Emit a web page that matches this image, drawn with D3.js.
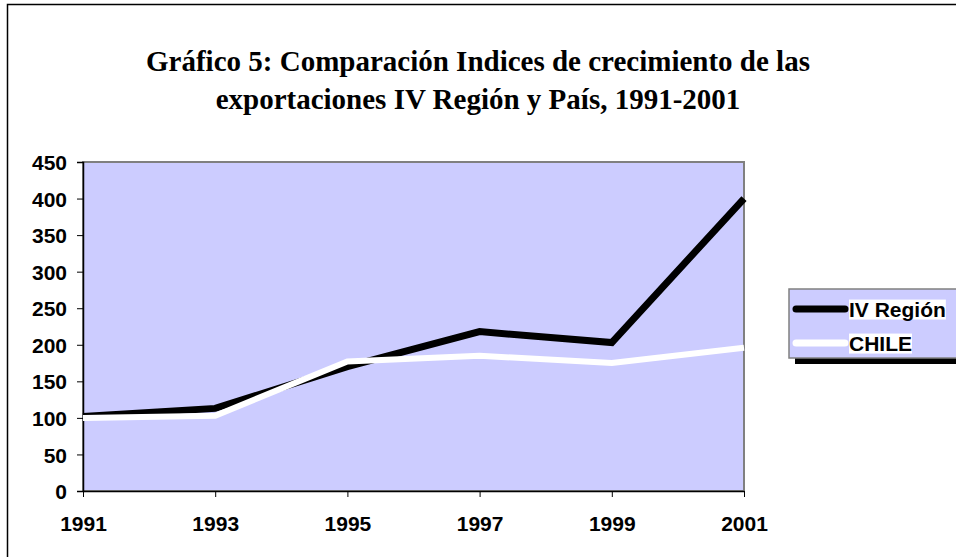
<!DOCTYPE html>
<html>
<head>
<meta charset="utf-8">
<script src="https://cdn.jsdelivr.net/npm/d3@7"></script>
<style>
  body { margin: 0; background: #fff; }
  svg { display: block; }
</style>
</head>
<body>
<div id="chart"></div>
<script>
const years = ['1991', '1993', '1995', '1997', '1999', '2001']
const region = [102, 113, 170, 218, 203, 400]
const chile = [100, 103, 177, 185, 175, 196]
const yTicks = [0, 50, 100, 150, 200, 250, 300, 350, 400, 450]
const seriesNames = ['IV Región', 'CHILE']

const W = 956, H = 557
const PLOT = { LEFT: 83, TOP: 162, RIGHT: 744, BOTTOM: 491 }
const SANS = '"Liberation Sans", Arial, sans-serif'
const LABEL_SIZE = '21px'

const svg = d3.select('#chart').append('svg')
    .attr('width', W).attr('height', H)

// outer chart frame (only left & top visible)
svg.append('path')
    .attr('d', `M7.5,${H} V4.5 H${W}`)
    .attr('fill', 'none').attr('stroke', '#000').attr('stroke-width', 1.5)

svg.append('text')
    .attr('text-anchor', 'middle')
    .style('font-family', '"Liberation Serif", "Times New Roman", serif')
    .style('font-weight', 'bold').style('font-size', '29px')
    .selectAll('tspan')
    .data(['Gráfico 5: Comparación Indices de crecimiento de las',
           'exportaciones IV Región y País, 1991-2001'])
    .join('tspan')
        .attr('x', 478)
        .attr('y', (d, i) => 71 + i * 38)
        .text(d => d)

const x = d3.scalePoint()
    .domain(years)
    .range([PLOT.LEFT, PLOT.RIGHT])

const y = d3.scaleLinear()
    .domain([0, 450])
    .range([PLOT.BOTTOM, PLOT.TOP])

// plot background
svg.append('rect')
    .attr('x', PLOT.LEFT).attr('y', PLOT.TOP)
    .attr('width', PLOT.RIGHT - PLOT.LEFT).attr('height', PLOT.BOTTOM - PLOT.TOP)
    .attr('fill', '#ccccff').attr('stroke', '#808080').attr('stroke-width', 2)

const yAxis = svg.append('g')
    .attr('transform', `translate(${PLOT.LEFT},0)`)
    .call(d3.axisLeft(y).tickValues(yTicks).tickSize(6).tickPadding(10))
yAxis.select('.domain').attr('stroke', '#000').attr('stroke-width', 1.5)
yAxis.selectAll('.tick line').attr('stroke', '#000')
yAxis.selectAll('.tick text').attr('dy', '0.36em')

const xAxis = svg.append('g')
    .attr('transform', `translate(0,${PLOT.BOTTOM})`)
    .call(d3.axisBottom(x).tickSize(6).tickSizeOuter(0).tickPadding(19))
xAxis.select('.domain').attr('stroke', '#000').attr('stroke-width', 1.5)
xAxis.selectAll('.tick line').attr('stroke', '#000')

svg.selectAll('.tick text')
    .style('font-family', SANS).style('font-weight', 'bold')
    .style('font-size', LABEL_SIZE).attr('fill', '#000')

const line = d3.line()
    .x((d, i) => x(years[i]))
    .y(d => y(d))

svg.append('path')
    .datum(region)
    .attr('d', line)
    .attr('fill', 'none').attr('stroke', '#000').attr('stroke-width', 7)

svg.append('path')
    .datum(chile)
    .attr('d', line)
    .attr('fill', 'none').attr('stroke', '#fff').attr('stroke-width', 6)

// legend
const legend = svg.append('g').attr('transform', 'translate(789,289)')
legend.append('rect')
    .attr('x', 6).attr('y', 6).attr('width', 180).attr('height', 69)
    .attr('fill', '#000')
legend.append('rect')
    .attr('x', 0).attr('y', 0).attr('width', 180).attr('height', 69)
    .attr('fill', '#ccccff').attr('stroke', '#808080').attr('stroke-width', 1.5)

const colors = ['#000', '#fff']
const items = legend.selectAll('g.item')
    .data(seriesNames)
    .join('g')
        .attr('class', 'item')
        .attr('transform', (d, i) => `translate(0,${20 + i * 34})`)

items.append('line')
    .attr('x1', 7).attr('x2', 56)
    .attr('stroke', (d, i) => colors[i]).attr('stroke-width', 7)
    .attr('stroke-linecap', 'round')

items.append('text')
    .attr('x', 60).attr('dy', '0.36em')
    .style('font-family', SANS)
    .style('font-weight', 'bold').style('font-size', LABEL_SIZE)
    .text(d => d)
    .each(function () {
        const bb = this.getBBox()
        d3.select(this.parentNode).insert('rect', 'text')
            .attr('x', bb.x).attr('y', bb.y + 2)
            .attr('width', bb.width).attr('height', bb.height - 3)
            .attr('fill', '#fff')
    })
</script>
</body>
</html>
